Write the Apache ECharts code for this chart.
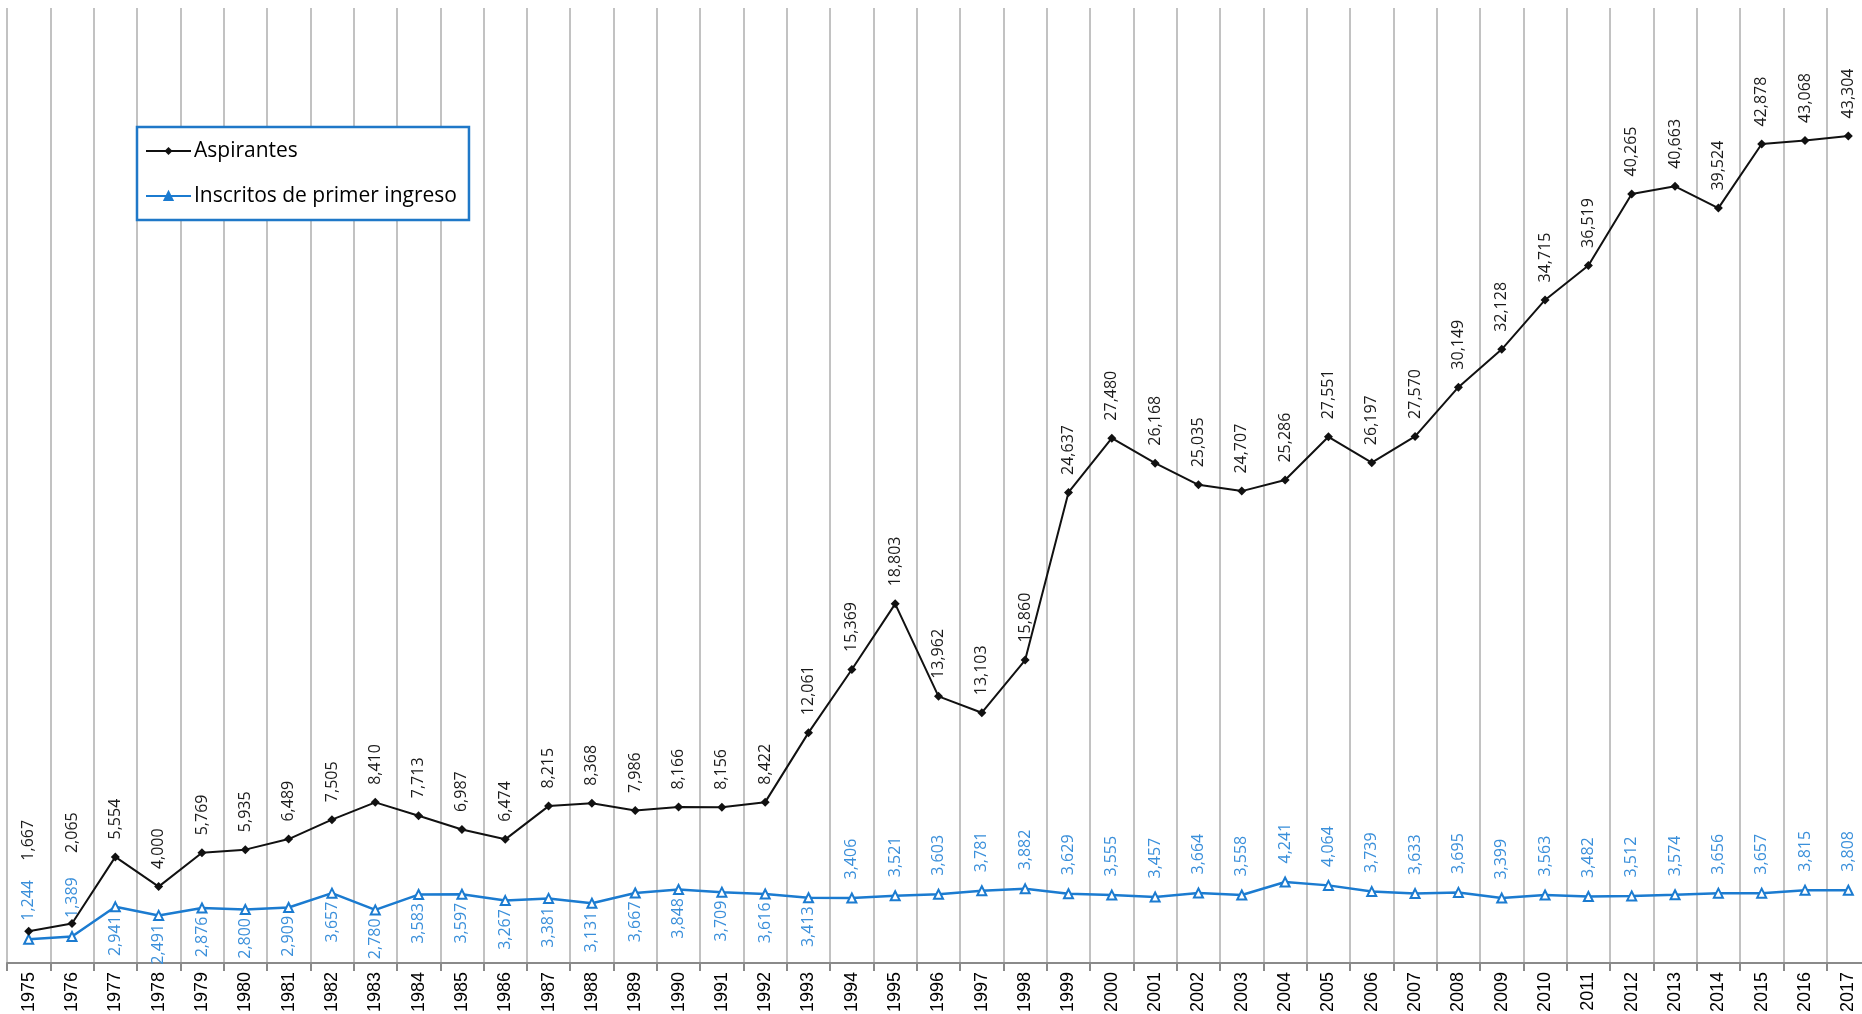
<!DOCTYPE html>
<html><head><meta charset="utf-8">
<script src="https://cdn.jsdelivr.net/npm/echarts@6/dist/echarts.min.js"></script>
<style>html,body{margin:0;padding:0;background:#fff}#c{width:1862px;height:1014px}</style>
</head><body><div id="c"></div>
<script>
const years = ['1975','1976','1977','1978','1979','1980','1981','1982','1983','1984','1985','1986','1987','1988','1989','1990','1991','1992','1993','1994','1995','1996','1997','1998','1999','2000','2001','2002','2003','2004','2005','2006','2007','2008','2009','2010','2011','2012','2013','2014','2015','2016','2017'];
const aspirantes = [1667,2065,5554,4000,5769,5935,6489,7505,8410,7713,6987,6474,8215,8368,7986,8166,8156,8422,12061,15369,18803,13962,13103,15860,24637,27480,26168,25035,24707,25286,27551,26197,27570,30149,32128,34715,36519,40265,40663,39524,42878,43068,43304];
const inscritos = [1244,1389,2941,2491,2876,2800,2909,3657,2780,3583,3597,3267,3381,3131,3667,3848,3709,3616,3413,3406,3521,3603,3781,3882,3629,3555,3457,3664,3558,4241,4064,3739,3633,3695,3399,3563,3482,3512,3574,3656,3657,3815,3808];
const seriesNames = ['Aspirantes','Inscritos de primer ingreso'];

const BLUE = '#1b7bd0';
const BLUE_LABEL = '#3a8fda';
const fmt = v => v.toLocaleString('en-US');

const aspData = aspirantes.map((v, i) => ({
  value: v,
  label: { distance: i < 2 ? 66 : 13 }
}));
const insData = inscritos.map((v, i) => {
  const up = i < 2 || i >= 19;
  return {
    value: v,
    label: up
      ? { position: 'top', align: 'left', distance: 13 }
      : { position: 'bottom', align: 'right', distance: 3 }
  };
});

const chart = echarts.init(document.getElementById('c'));
chart.setOption({
  animation: false,
  backgroundColor: '#fff',
  grid: { left: 7, right: -8, top: 8, bottom: 51, outerBoundsMode: 'none' },
  legend: {
    orient: 'vertical',
    left: 137, top: 127,
    backgroundColor: '#fff',
    borderColor: '#1f78c8', borderWidth: 2.5, borderRadius: 0,
    padding: [11, 12, 11, 8],
    itemWidth: 45, itemHeight: 10, itemGap: 19,
    textStyle: { fontFamily: 'Open Sans', fontSize: 21, color: '#000', lineHeight: 26, padding: [0,0,0,-2] },
    data: [
      { name: seriesNames[0] },
      { name: seriesNames[1], itemStyle: { color: BLUE, borderColor: BLUE } }
    ]
  },
  xAxis: {
    type: 'category',
    data: years,
    boundaryGap: true,
    axisLine: { lineStyle: { color: '#8a8a8a', width: 2 } },
    axisTick: { show: true, length: 8, interval: 0, lineStyle: { color: '#8a8a8a', width: 2 } },
    splitLine: { show: true, interval: 0, lineStyle: { color: '#c2c2c2', width: 2 } },
    axisLabel: { rotate: 90, interval: 0, margin: 9, fontFamily: 'Liberation Sans', fontSize: 18, color: '#000' }
  },
  yAxis: { type: 'value', min: 0, max: 50000, show: false },
  series: [
    {
      name: seriesNames[0], type: 'line', data: aspData,
      symbol: 'diamond', symbolSize: 9,
      itemStyle: { color: '#111' },
      lineStyle: { color: '#111', width: 2 },
      label: {
        show: true, position: 'top', rotate: 90, align: 'left', verticalAlign: 'middle',
        fontFamily: 'Open Sans', fontSize: 16, color: '#1a1a1a',
        formatter: p => fmt(p.value)
      },
      z: 3
    },
    {
      name: seriesNames[1], type: 'line', data: insData,
      symbol: 'triangle', symbolSize: 9,
      itemStyle: { color: '#fff', borderColor: BLUE, borderWidth: 2 },
      lineStyle: { color: BLUE, width: 2.5 },
      label: {
        show: true, rotate: 90, verticalAlign: 'middle',
        fontFamily: 'Open Sans', fontSize: 16, color: BLUE_LABEL,
        formatter: p => fmt(p.value)
      },
      z: 2
    }
  ]
});
</script>
</body></html>
